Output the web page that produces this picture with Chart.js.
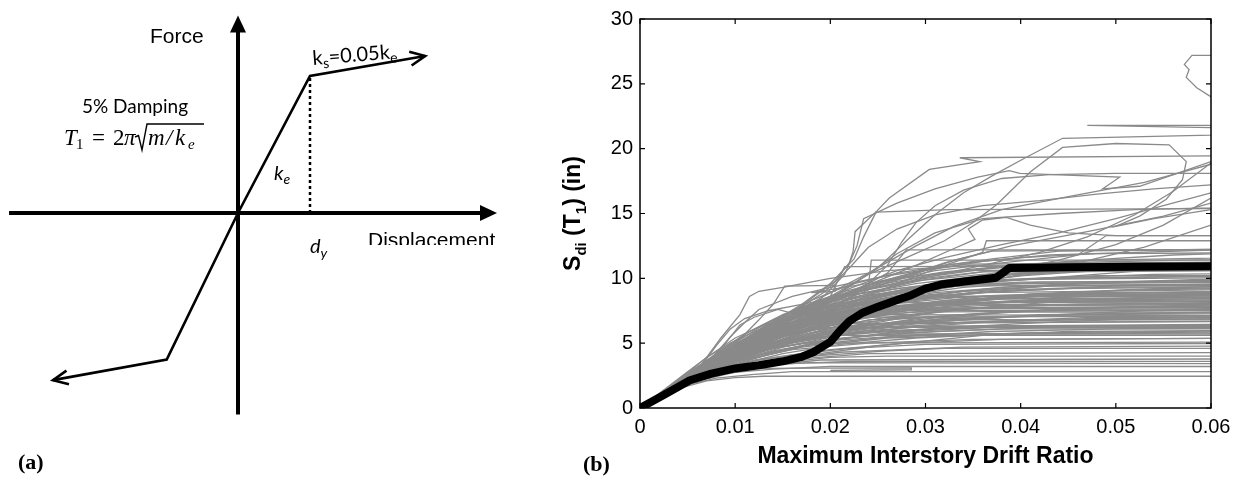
<!DOCTYPE html>
<html>
<head>
<meta charset="utf-8">
<script src="https://cdn.jsdelivr.net/npm/chart.js@4.4.1/dist/chart.umd.min.js"></script>
<style>
  html, body { margin: 0; padding: 0; background: #fff; }
  #wrap { position: relative; width: 1242px; height: 479px; overflow: hidden; }
  #backbone { position: absolute; left: 0; top: 0; }
  #ida { position: absolute; left: 520px; top: 0; }
</style>
</head>
<body>
<div id="wrap">
  <canvas id="backbone" width="520" height="479"></canvas>
  <canvas id="ida" width="722" height="479"></canvas>
</div>
<script>
// ---------- (a) bilinear backbone, in units of d_y and F_y ----------
const backboneDisp  = [-2.57, -0.99, 0, 1, 2.6];
const backboneForce = [-1.22, -1.07, 0, 1, 1.146];
const dispAxis  = [-3.18, 3.5];
const forceAxis = [-1.47, 1.39];
const yieldDisp = 1;

// ---------- (b) IDA curves ----------
const driftTicks  = [0, 0.01, 0.02, 0.03, 0.04, 0.05, 0.06];
const driftLabels = ['0', '0.01', '0.02', '0.03', '0.04', '0.05', '0.06'];
const sdiTicks  = [0, 5, 10, 15, 20, 25, 30];
const sdiLabels = ['0', '5', '10', '15', '20', '25', '30'];

const medianDrift = [0, 0.0025, 0.00525, 0.0075, 0.01, 0.0125, 0.015, 0.017, 0.0182, 0.02, 0.021, 0.022, 0.0234, 0.025, 0.0273, 0.0285, 0.03, 0.0318, 0.0345, 0.0374, 0.038, 0.0388, 0.045, 0.052, 0.06];
const medianSdi   = [0, 1.0, 2.14, 2.65, 3.05, 3.3, 3.6, 3.95, 4.3, 5.1, 5.95, 6.7, 7.35, 7.8, 8.4, 8.7, 9.2, 9.55, 9.8, 10.05, 10.35, 10.8, 10.85, 10.9, 10.94];

// single records, [drift, Sdi] pairs
const idaCurves = [
  // low collapses
  [[0,0],[0.004,1.5],[0.007,2.1],[0.010,2.35],[0.013,2.45],[0.07,2.45]],
  [[0,0],[0.005,1.8],[0.008,2.3],[0.012,2.6],[0.016,2.8],[0.07,2.8]],
  [[0,0],[0.005,2.0],[0.009,2.7],[0.014,3.0],[0.02,3.2],[0.07,3.2]],
  [[0,0],[0.005,1.9],[0.009,2.6],[0.012,3.05],[0.0285,3.1],[0.0285,2.95],[0.02,2.9]],
  [[0,0],[0.005,2.1],[0.009,2.9],[0.015,3.4],[0.022,3.6],[0.07,3.6]],
  [[0,0],[0.005,2.0],[0.01,3.0],[0.016,3.6],[0.02,3.9],[0.026,4.0],[0.07,4.0]],
  [[0,0],[0.006,2.3],[0.011,3.2],[0.017,3.8],[0.024,4.2],[0.07,4.3]],
  [[0,0],[0.005,2.0],[0.012,3.4],[0.018,4.0],[0.026,4.4],[0.032,4.6],[0.07,4.6]],
  [[0,0],[0.005,2.1],[0.011,3.5],[0.016,4.1],[0.022,4.6],[0.03,4.9],[0.07,5.0]],
  [[0,0],[0.006,2.4],[0.012,3.7],[0.02,4.5],[0.028,5.0],[0.038,5.3],[0.07,5.4]],
  [[0,0],[0.005,2.0],[0.009,3.0],[0.014,3.6],[0.021,4.3],[0.034,4.7],[0.07,4.8]],
  [[0,0],[0.005,1.9],[0.008,2.6],[0.012,3.2],[0.019,3.7],[0.07,3.8]],
  [[0,0],[0.005,2.0],[0.01,3.1],[0.016,3.9],[0.025,4.8],[0.036,5.6],[0.045,5.9],[0.07,6.0]],
  [[0,0],[0.004,1.6],[0.008,2.5],[0.013,3.3],[0.018,3.5],[0.07,3.4]],
  [[0,0],[0.005,2.1],[0.01,3.6],[0.016,4.5],[0.024,5.0],[0.035,5.3],[0.07,5.4]],
  [[0,0],[0.005,1.9],[0.01,3.3],[0.015,4.2],[0.021,4.9],[0.029,5.4],[0.04,5.8],[0.07,6.0]],
  // middle band
  [[0,0],[0.005,2.1],[0.01,3.4],[0.015,4.4],[0.02,5.2],[0.027,5.9],[0.035,6.3],[0.07,6.4]],
  [[0,0],[0.005,2.2],[0.009,3.5],[0.013,4.6],[0.018,5.6],[0.024,6.4],[0.032,6.9],[0.045,7.2],[0.07,7.3]],
  [[0,0],[0.005,2.0],[0.008,3.0],[0.012,4.2],[0.016,5.0],[0.021,5.6],[0.03,6.1],[0.04,6.5],[0.052,6.9],[0.07,7.2]],
  [[0,0],[0.006,2.5],[0.01,3.8],[0.014,4.9],[0.019,5.9],[0.025,6.6],[0.031,7.4],[0.039,7.9],[0.07,8.0]],
  [[0,0],[0.005,2.1],[0.011,4.0],[0.017,5.3],[0.022,5.8],[0.029,6.0],[0.027,5.7],[0.07,5.8]],
  [[0,0],[0.005,2.2],[0.0085,3.4],[0.012,4.5],[0.016,5.4],[0.021,6.4],[0.026,7.0],[0.033,7.6],[0.044,8.2],[0.055,8.6],[0.07,8.8]],
  [[0,0],[0.005,2.0],[0.01,3.7],[0.014,4.6],[0.018,5.1],[0.023,5.5],[0.031,5.9],[0.042,6.2],[0.07,6.3]],
  [[0,0],[0.006,2.6],[0.01,4.1],[0.013,5.2],[0.017,6.2],[0.022,7.0],[0.028,7.5],[0.07,7.6]],
  [[0,0],[0.005,2.2],[0.009,3.6],[0.013,4.8],[0.019,6.3],[0.024,7.2],[0.03,7.9],[0.037,8.5],[0.046,8.9],[0.07,9.0]],
  [[0,0],[0.005,2.1],[0.011,4.2],[0.016,5.5],[0.021,6.6],[0.027,7.3],[0.034,7.7],[0.07,7.8]],
  [[0,0],[0.005,2.3],[0.008,3.4],[0.011,4.6],[0.014,5.6],[0.018,6.5],[0.023,7.3],[0.029,8.0],[0.036,8.6],[0.07,8.7]],
  [[0,0],[0.005,2.0],[0.009,3.3],[0.015,4.9],[0.021,5.7],[0.03,6.6],[0.041,7.1],[0.053,7.5],[0.07,7.6]],
  [[0,0],[0.005,2.2],[0.01,4.0],[0.014,5.1],[0.018,5.8],[0.024,6.8],[0.03,7.0],[0.039,6.8],[0.07,6.9]],
  [[0,0],[0.006,2.4],[0.009,3.7],[0.012,4.9],[0.015,5.9],[0.019,6.9],[0.024,7.6],[0.032,8.3],[0.042,8.7],[0.07,8.8]],
  [[0,0],[0.005,2.1],[0.01,3.8],[0.016,5.3],[0.024,6.1],[0.034,6.6],[0.048,7.0],[0.07,7.0]],
  [[0,0],[0.005,2.0],[0.012,4.3],[0.018,5.5],[0.025,6.3],[0.032,6.9],[0.038,7.4],[0.07,7.4]],
  [[0,0],[0.005,2.2],[0.009,3.8],[0.013,5.1],[0.017,6.0],[0.02,6.6],[0.026,7.2],[0.07,7.1]],
  [[0,0],[0.005,2.1],[0.011,4.5],[0.015,5.8],[0.02,7.1],[0.027,7.8],[0.035,8.1],[0.045,8.3],[0.07,8.5]],
  [[0,0],[0.005,2.0],[0.008,3.1],[0.012,4.0],[0.017,4.8],[0.025,5.4],[0.037,5.9],[0.05,6.1],[0.07,6.2]],
  [[0,0],[0.006,2.5],[0.01,4.3],[0.015,5.7],[0.019,6.3],[0.026,6.8],[0.034,7.2],[0.044,7.6],[0.056,7.9],[0.07,8.0]],
  [[0,0],[0.005,2.1],[0.009,3.9],[0.012,5.0],[0.016,6.2],[0.021,7.3],[0.028,8.2],[0.036,8.9],[0.07,9.2]],
  [[0,0],[0.005,2.2],[0.01,4.4],[0.014,5.9],[0.019,6.8],[0.025,7.5],[0.033,8.0],[0.042,8.4],[0.052,8.2],[0.07,8.3]],
  [[0,0],[0.005,2.0],[0.01,3.5],[0.017,4.7],[0.026,5.4],[0.04,5.7],[0.07,5.7]],
  [[0,0],[0.005,2.3],[0.009,4.0],[0.013,5.4],[0.016,6.5],[0.021,7.6],[0.027,8.4],[0.034,9.0],[0.043,9.4],[0.07,9.5]],
  [[0,0],[0.005,2.1],[0.012,4.6],[0.018,6.0],[0.023,6.4],[0.03,6.5],[0.038,6.7],[0.046,6.8],[0.07,6.9]],
  [[0,0],[0.005,2.1],[0.01,4.0],[0.014,5.3],[0.018,6.2],[0.07,6.3]],
  [[0,0],[0.005,2.2],[0.01,4.3],[0.015,6.0],[0.02,7.0],[0.07,7.1]],
  [[0,0],[0.005,2.0],[0.011,4.1],[0.017,5.9],[0.024,7.6],[0.07,7.8]],
  [[0,0],[0.005,2.3],[0.009,4.1],[0.013,5.6],[0.018,7.2],[0.022,8.1],[0.07,8.2]],
  [[0,0],[0.005,2.1],[0.01,4.1],[0.016,6.0],[0.022,7.6],[0.029,8.6],[0.07,8.7]],
  [[0,0],[0.005,2.2],[0.01,4.2],[0.015,5.5],[0.021,6.5],[0.07,6.7]],
  [[0,0],[0.005,2.0],[0.009,3.5],[0.013,4.5],[0.017,5.0],[0.07,5.1]],
  [[0,0],[0.005,2.1],[0.01,3.9],[0.015,5.1],[0.02,5.9],[0.026,6.3],[0.07,6.4]],
  [[0,0],[0.005,2.2],[0.011,4.6],[0.016,6.4],[0.021,7.8],[0.027,8.9],[0.033,9.6],[0.07,9.7]],
  [[0,0],[0.005,2.1],[0.01,4.0],[0.015,5.8],[0.02,7.3],[0.025,8.4],[0.031,9.2],[0.038,9.9],[0.07,10.1]],
  [[0,0],[0.006,2.5],[0.011,4.4],[0.016,5.7],[0.022,6.9],[0.03,7.7],[0.07,7.9]],
  [[0,0],[0.005,2.0],[0.009,3.3],[0.014,4.4],[0.02,5.2],[0.03,5.7],[0.07,5.9]],
  [[0,0],[0.005,2.6],[0.008,3.9],[0.011,5.0],[0.015,6.0],[0.02,6.9],[0.026,7.7],[0.034,8.3],[0.045,8.7],[0.07,8.9]],
  [[0,0],[0.005,2.4],[0.0075,3.6],[0.0105,4.8],[0.014,5.6],[0.019,6.1],[0.025,6.5],[0.032,6.6],[0.07,6.7]],
  [[0,0],[0.005,1.9],[0.009,3.4],[0.014,4.8],[0.02,6.0],[0.027,7.0],[0.035,7.7],[0.046,8.0],[0.058,8.1],[0.07,8.2]],
  [[0,0],[0.005,2.7],[0.007,3.9],[0.01,5.4],[0.013,6.4],[0.017,7.2],[0.022,7.8],[0.029,8.4],[0.038,8.7],[0.07,8.9]],
  [[0,0],[0.005,2.5],[0.009,4.5],[0.012,5.6],[0.016,6.6],[0.021,7.4],[0.028,7.9],[0.036,8.1],[0.07,8.3]],
  [[0,0],[0.005,2.0],[0.01,3.9],[0.016,5.6],[0.023,6.9],[0.031,7.9],[0.04,8.6],[0.051,9.1],[0.07,9.3]],
  [[0,0],[0.005,2.2],[0.01,4.2],[0.016,6.1],[0.022,7.5],[0.03,8.5],[0.039,9.1],[0.05,9.4],[0.07,9.6]],
  [[0,0],[0.005,2.1],[0.01,4.1],[0.015,5.9],[0.02,7.2],[0.026,8.0],[0.033,8.5],[0.042,8.8],[0.07,9.0]],
  [[0,0],[0.005,2.0],[0.01,3.6],[0.015,4.7],[0.021,5.6],[0.028,6.2],[0.036,6.6],[0.047,6.9],[0.07,7.0]],
  [[0,0],[0.005,2.3],[0.009,3.8],[0.013,4.9],[0.018,5.8],[0.024,6.4],[0.032,6.8],[0.07,6.8]],
  [[0,0],[0.005,2.2],[0.009,3.7],[0.014,5.0],[0.02,5.9],[0.028,6.5],[0.038,7.0],[0.05,7.3],[0.07,7.5]],
  [[0,0],[0.005,2.1],[0.008,3.2],[0.012,4.3],[0.017,5.2],[0.023,5.9],[0.03,6.3],[0.07,6.5]],
  [[0,0],[0.005,2.5],[0.008,3.7],[0.012,4.8],[0.016,5.3],[0.021,5.6],[0.07,5.6]],
  [[0,0],[0.005,2.0],[0.01,4.0],[0.015,5.7],[0.021,7.0],[0.029,7.9],[0.038,8.4],[0.048,8.6],[0.07,8.7]],
  [[0,0],[0.005,1.8],[0.009,3.1],[0.014,4.3],[0.02,5.3],[0.028,5.9],[0.039,6.3],[0.07,6.4]],
  [[0,0],[0.005,2.4],[0.009,3.9],[0.013,5.2],[0.018,6.4],[0.024,7.3],[0.031,7.9],[0.04,8.2],[0.07,8.4]],
  [[0,0],[0.005,2.7],[0.008,4.1],[0.011,5.3],[0.015,6.3],[0.02,7.0],[0.027,7.5],[0.035,7.7],[0.07,7.8]],
  [[0,0],[0.005,2.1],[0.01,4.2],[0.014,5.5],[0.019,6.6],[0.025,7.4],[0.032,8.0],[0.041,8.3],[0.07,8.5]],
  [[0,0],[0.005,2.3],[0.01,4.3],[0.014,5.7],[0.018,6.7],[0.023,7.5],[0.03,8.1],[0.07,8.3]],
  [[0,0],[0.005,2.2],[0.009,4.0],[0.013,5.3],[0.017,6.3],[0.022,7.1],[0.028,7.6],[0.036,7.9],[0.07,8.0]],
  [[0,0],[0.005,2.2],[0.01,4.0],[0.015,5.2],[0.021,6.0],[0.03,6.7],[0.042,7.2],[0.07,7.4]],
  [[0,0],[0.005,2.4],[0.009,4.0],[0.014,5.4],[0.02,6.6],[0.027,7.6],[0.035,8.3],[0.046,8.8],[0.07,9.1]],
  [[0,0],[0.005,2.1],[0.01,3.7],[0.015,4.9],[0.022,6.1],[0.03,7.0],[0.04,7.5],[0.052,7.8],[0.07,7.9]],
  [[0,0],[0.005,2.3],[0.01,4.2],[0.016,5.8],[0.023,7.1],[0.031,8.1],[0.041,8.8],[0.054,9.2],[0.07,9.3]],
  [[0,0],[0.005,2.0],[0.01,3.8],[0.015,5.0],[0.02,5.6],[0.027,6.0],[0.036,6.2],[0.07,6.2]],
  [[0,0],[0.005,2.2],[0.009,3.6],[0.014,4.6],[0.02,5.3],[0.028,5.8],[0.038,6.1],[0.07,6.1]],
  [[0,0],[0.005,2.1],[0.01,4.1],[0.015,5.6],[0.02,6.7],[0.027,7.5],[0.035,8.0],[0.045,8.4],[0.07,8.6]],
  [[0,0],[0.005,2.0],[0.011,4.0],[0.017,5.4],[0.024,6.4],[0.033,7.1],[0.044,7.6],[0.07,7.7]],
  [[0,0],[0.005,2.2],[0.01,4.3],[0.015,5.9],[0.021,7.1],[0.028,7.9],[0.036,8.4],[0.07,8.6]],
  [[0,0],[0.005,2.4],[0.009,4.2],[0.013,5.5],[0.017,6.4],[0.022,7.0],[0.029,7.4],[0.07,7.6]],
  // upper band
  [[0,0],[0.005,2.3],[0.008,3.7],[0.0105,5.3],[0.0125,6.8],[0.014,8.0],[0.0152,9.4],[0.0205,9.45],[0.0205,9.0],[0.018,8.9],[0.0215,9.3],[0.027,10.0],[0.034,10.6],[0.07,10.8]],
  [[0,0],[0.005,2.4],[0.0065,3.4],[0.0085,5.4],[0.0105,7.2],[0.0115,8.6],[0.0125,9.0],[0.015,9.3],[0.02,10.0],[0.026,10.6],[0.035,11.0],[0.07,11.1]],
  [[0,0],[0.005,2.2],[0.0095,4.5],[0.013,6.3],[0.017,7.7],[0.02,8.6],[0.0215,10.9],[0.07,10.95]],
  [[0,0],[0.005,2.1],[0.01,4.1],[0.015,6.0],[0.02,7.6],[0.024,9.4],[0.0243,11.4],[0.07,11.4]],
  [[0,0],[0.005,2.2],[0.01,4.3],[0.015,6.2],[0.019,7.8],[0.023,9.2],[0.026,10.4],[0.028,12.2],[0.07,12.2]],
  [[0,0],[0.005,2.0],[0.01,3.8],[0.016,5.9],[0.022,8.0],[0.027,9.6],[0.032,11.0],[0.036,12.0],[0.0364,12.9],[0.07,12.9]],
  [[0,0],[0.005,2.3],[0.01,4.6],[0.014,6.6],[0.018,8.3],[0.022,9.5],[0.027,10.4],[0.033,11.1],[0.04,11.6],[0.048,11.9],[0.07,12.0]],
  [[0,0],[0.005,2.1],[0.011,4.7],[0.016,6.8],[0.021,8.6],[0.026,9.8],[0.031,10.6],[0.038,11.2],[0.046,11.8],[0.049,13.3],[0.07,13.3]],
  [[0,0],[0.005,2.2],[0.009,4.2],[0.013,6.0],[0.018,7.9],[0.023,9.0],[0.029,9.8],[0.036,10.3],[0.045,10.6],[0.07,10.7]],
  [[0,0],[0.005,2.0],[0.01,4.0],[0.016,6.3],[0.021,7.9],[0.026,8.9],[0.033,9.6],[0.042,10.0],[0.054,10.3],[0.07,10.4]],
  [[0,0],[0.006,2.6],[0.01,4.6],[0.014,6.5],[0.017,7.6],[0.021,8.5],[0.025,9.1],[0.03,9.9],[0.036,10.5],[0.07,10.6]],
  [[0,0],[0.005,2.1],[0.01,4.2],[0.015,6.1],[0.02,7.4],[0.028,8.8],[0.035,9.6],[0.044,10.1],[0.053,10.6],[0.06,11.2],[0.07,11.5]],
  [[0,0],[0.005,2.2],[0.009,4.0],[0.014,6.4],[0.019,8.1],[0.025,9.5],[0.031,10.3],[0.039,11.0],[0.047,11.4],[0.056,11.8],[0.07,12.1]],
  [[0,0],[0.005,2.3],[0.008,3.8],[0.012,5.8],[0.016,7.4],[0.02,8.5],[0.025,9.7],[0.031,10.9],[0.037,11.5],[0.044,12.1],[0.07,12.3]],
  [[0,0],[0.005,2.1],[0.01,4.4],[0.015,6.5],[0.02,8.2],[0.027,9.2],[0.035,9.8],[0.048,10.2],[0.07,10.2]],
  [[0,0],[0.005,2.2],[0.009,4.1],[0.013,5.9],[0.017,7.3],[0.022,8.4],[0.029,9.3],[0.036,9.8],[0.045,10.0],[0.055,10.1],[0.07,10.2]],
  [[0,0],[0.005,2.0],[0.011,4.5],[0.017,6.9],[0.022,8.7],[0.028,10.1],[0.033,11.4],[0.037,12.1],[0.07,12.3]],
  [[0,0],[0.005,2.2],[0.01,4.5],[0.014,6.2],[0.018,7.1],[0.023,8.0],[0.03,8.6],[0.038,9.0],[0.048,9.3],[0.07,9.4]],
  [[0,0],[0.005,2.1],[0.009,3.9],[0.014,5.8],[0.02,7.3],[0.027,8.3],[0.036,9.0],[0.046,9.6],[0.058,9.9],[0.07,10.0]],
  [[0,0],[0.006,2.5],[0.011,4.9],[0.015,6.7],[0.019,7.8],[0.024,8.7],[0.031,9.3],[0.04,9.7],[0.07,9.8]],
  [[0,0],[0.005,2.3],[0.0065,3.3],[0.008,4.8],[0.0095,6.1],[0.011,6.9],[0.0135,7.5],[0.017,8.0],[0.022,8.7],[0.03,9.5],[0.07,9.8]],
  [[0,0],[0.005,2.2],[0.007,3.4],[0.009,5.0],[0.0105,6.4],[0.012,7.0],[0.0145,7.6],[0.016,7.3],[0.02,7.9],[0.07,8.1]],
  [[0,0],[0.0055,2.5],[0.0075,3.8],[0.0095,5.5],[0.011,6.6],[0.0125,7.6],[0.016,8.6],[0.02,9.3],[0.026,10.2],[0.034,11.1],[0.07,11.3]],
  [[0,0],[0.005,2.3],[0.01,4.4],[0.015,6.2],[0.021,7.9],[0.028,9.2],[0.036,10.1],[0.045,10.6],[0.07,11.0]],
  [[0,0],[0.005,2.6],[0.008,4.2],[0.011,5.7],[0.014,6.8],[0.018,7.9],[0.023,8.8],[0.029,9.6],[0.036,10.2],[0.044,10.5],[0.07,10.7]],
  [[0,0],[0.005,2.4],[0.009,4.3],[0.013,5.8],[0.018,7.1],[0.024,8.1],[0.031,8.9],[0.04,9.4],[0.07,9.6]],
  [[0,0],[0.005,2.8],[0.007,3.9],[0.0095,5.0],[0.012,5.9],[0.016,6.9],[0.021,7.8],[0.027,8.6],[0.034,9.3],[0.042,9.7],[0.07,9.9]],
  [[0,0],[0.005,2.3],[0.009,4.2],[0.013,5.9],[0.017,7.1],[0.022,8.2],[0.028,9.1],[0.035,9.7],[0.043,10.0],[0.07,10.3]],
  [[0,0],[0.005,2.2],[0.01,4.3],[0.015,6.1],[0.02,7.5],[0.026,8.7],[0.033,9.6],[0.041,10.3],[0.049,10.8],[0.07,11.2]],
  [[0,0],[0.005,2.4],[0.009,4.4],[0.013,6.2],[0.018,7.8],[0.023,9.0],[0.029,10.0],[0.036,10.7],[0.044,11.2],[0.07,11.6]],
  [[0,0],[0.005,2.1],[0.009,3.9],[0.014,5.7],[0.019,7.2],[0.025,8.5],[0.032,9.5],[0.04,10.2],[0.05,10.7],[0.07,10.9]],
  [[0,0],[0.005,2.6],[0.009,4.6],[0.013,6.4],[0.017,7.8],[0.021,8.9],[0.026,9.8],[0.032,10.5],[0.039,11.0],[0.048,11.4],[0.07,11.7]],
  [[0,0],[0.005,2.3],[0.01,4.5],[0.015,6.6],[0.02,8.4],[0.025,9.7],[0.03,10.6],[0.036,11.3],[0.043,11.8],[0.07,12.4]],
  [[0,0],[0.005,2.2],[0.0095,4.1],[0.0135,5.6],[0.018,6.8],[0.024,7.9],[0.03,8.7],[0.038,9.3],[0.048,9.7],[0.07,9.9]],
  [[0,0],[0.005,2.5],[0.0085,4.3],[0.012,5.8],[0.016,7.0],[0.0205,8.0],[0.026,8.8],[0.033,9.4],[0.07,9.6]],
  [[0,0],[0.005,2.0],[0.011,4.4],[0.016,6.1],[0.022,7.4],[0.028,8.3],[0.035,8.9],[0.045,9.2],[0.07,9.4]],
  [[0,0],[0.005,2.6],[0.0085,4.4],[0.0115,5.9],[0.015,7.2],[0.019,8.3],[0.024,9.2],[0.03,10.0],[0.037,10.6],[0.07,11.0]],
  [[0,0],[0.005,2.5],[0.009,4.4],[0.013,5.9],[0.018,7.4],[0.024,8.6],[0.031,9.6],[0.04,10.4],[0.052,10.9],[0.07,11.1]],
  [[0,0],[0.005,2.3],[0.01,4.4],[0.015,6.0],[0.02,7.2],[0.026,8.2],[0.034,9.0],[0.044,9.5],[0.056,9.8],[0.07,9.9]],
  // high records
  [[0,0],[0.005,2.2],[0.009,4.2],[0.013,6.1],[0.017,7.9],[0.0205,9.8],[0.022,11.2],[0.0224,12.1],[0.0226,13.6],[0.0249,15.2],[0.0262,16.2],[0.0304,18.4],[0.0357,19.0],[0.0336,19.3],[0.07,19.5]],
  [[0,0],[0.005,2.1],[0.01,4.3],[0.015,6.4],[0.019,8.4],[0.0215,10.3],[0.0228,12.5],[0.0235,14.6],[0.027,15.8],[0.031,16.9],[0.0355,17.8],[0.0388,18.3],[0.0399,18.1],[0.0504,17.8],[0.0486,16.9],[0.0525,17.1],[0.06,19.0],[0.07,20.5]],
  [[0,0],[0.005,2.2],[0.01,4.5],[0.015,6.6],[0.02,8.6],[0.024,10.3],[0.028,11.6],[0.032,12.9],[0.035,14.3],[0.0375,15.7],[0.041,18.2],[0.0444,20.1],[0.05,20.4],[0.0556,20.3],[0.0574,19.0],[0.057,17.6],[0.0553,16.1],[0.0525,14.8],[0.05,14.0],[0.054,14.6],[0.06,15.3],[0.07,15.8]],
  [[0,0],[0.005,2.1],[0.011,4.8],[0.016,7.0],[0.021,8.9],[0.025,10.8],[0.028,12.9],[0.031,14.9],[0.034,16.6],[0.037,17.9],[0.0405,19.3],[0.0444,20.8],[0.07,21.2]],
  [[0,0],[0.005,2.2],[0.01,4.4],[0.014,6.3],[0.019,8.5],[0.024,10.4],[0.029,12.5],[0.033,14.0],[0.038,15.3],[0.045,16.3],[0.053,17.4],[0.06,18.8],[0.07,21.5],[0.047,21.8],[0.07,21.8]],
  [[0,0],[0.005,2.1],[0.01,4.2],[0.015,6.1],[0.02,7.9],[0.026,9.7],[0.032,11.2],[0.039,12.5],[0.047,13.6],[0.055,14.8],[0.06,15.8],[0.075,23.5],[0.06,24.0],[0.0585,24.7],[0.0574,25.5],[0.0577,26.1],[0.0572,26.5],[0.058,27.2],[0.075,27.2]],
  [[0,0],[0.005,2.3],[0.009,4.3],[0.013,6.2],[0.017,8.0],[0.02,9.6],[0.0225,11.5],[0.0235,13.2],[0.0248,15.1],[0.0325,15.3],[0.07,15.4]],
  [[0,0],[0.005,2.2],[0.01,4.4],[0.015,6.5],[0.02,8.3],[0.024,9.6],[0.026,11.0],[0.0275,12.8],[0.029,14.3],[0.031,15.6],[0.034,16.8],[0.038,17.7],[0.043,18.0],[0.05,18.1],[0.07,18.1]],
  [[0,0],[0.005,2.1],[0.01,4.3],[0.015,6.3],[0.02,8.1],[0.025,9.8],[0.029,11.0],[0.033,12.3],[0.0352,13.0],[0.0345,13.8],[0.036,14.5],[0.0385,14.7],[0.041,14.1],[0.045,13.5],[0.05,13.3],[0.07,13.3]],
  [[0,0],[0.005,2.2],[0.01,4.6],[0.015,6.9],[0.0195,9.0],[0.022,10.8],[0.024,12.4],[0.027,13.8],[0.031,14.9],[0.036,15.6],[0.042,16.0],[0.048,16.5],[0.054,16.9],[0.06,17.2],[0.07,17.5]],
  [[0,0],[0.005,2.1],[0.01,4.3],[0.016,6.9],[0.022,9.2],[0.027,10.6],[0.032,11.6],[0.038,12.6],[0.044,13.5],[0.05,14.6],[0.055,15.6],[0.06,16.6],[0.07,18.0]],
  [[0,0],[0.005,2.2],[0.01,4.4],[0.015,6.5],[0.02,8.4],[0.0235,10.1],[0.027,11.9],[0.031,13.5],[0.036,14.6],[0.044,15.0],[0.052,15.3],[0.07,15.6]],
  [[0,0],[0.005,2.0],[0.01,4.0],[0.016,6.4],[0.022,8.4],[0.029,9.9],[0.036,11.0],[0.042,12.0],[0.047,13.2],[0.052,14.9],[0.056,16.7],[0.06,18.9],[0.065,21]],
  [[0,0],[0.005,2.1],[0.011,4.6],[0.017,6.6],[0.024,8.4],[0.031,9.6],[0.038,10.5],[0.044,11.4],[0.05,12.6],[0.055,14.1],[0.06,16.2],[0.065,17.5]],
  [[0,0],[0.005,2.2],[0.01,4.3],[0.016,6.2],[0.023,7.9],[0.03,9.0],[0.038,10.0],[0.046,11.2],[0.053,12.4],[0.06,14.1],[0.07,15.5]]
];

// ---------- helpers ----------
function filledArrow(ctx, x0, y0, x1, y1) {
  const len = Math.hypot(x1 - x0, y1 - y0), ux = (x1 - x0) / len, uy = (y1 - y0) / len;
  const tx = x1 + ux * 7, ty = y1 + uy * 7;
  const bx = tx - ux * 17, by = ty - uy * 17;
  ctx.beginPath();
  ctx.moveTo(tx, ty);
  ctx.lineTo(bx - uy * 8, by + ux * 8);
  ctx.lineTo(bx + uy * 8, by - ux * 8);
  ctx.closePath();
  ctx.fill();
}

function openArrow(ctx, x0, y0, x1, y1) {
  const len = Math.hypot(x1 - x0, y1 - y0), ux = (x1 - x0) / len, uy = (y1 - y0) / len;
  const bx = x1 - ux * 15, by = y1 - uy * 15;
  ctx.beginPath();
  ctx.moveTo(bx - uy * 7, by + ux * 7);
  ctx.lineTo(x1, y1);
  ctx.lineTo(bx + uy * 7, by - ux * 7);
  ctx.stroke();
}

// text with a subscript; returns the x after it
function subText(ctx, x, y, main, sub, font, subFont, drop) {
  ctx.font = font;
  ctx.fillText(main, x, y);
  x += ctx.measureText(main).width;
  ctx.font = subFont;
  ctx.fillText(sub, x, y + drop);
  return x + ctx.measureText(sub).width;
}

// ---------- (a) ----------
const sketchLabels = {
  id: 'sketchLabels',
  afterDatasetsDraw(chart) {
    const { ctx, scales: { x, y } } = chart;
    const px = v => x.getPixelForValue(v), py = v => y.getPixelForValue(v);
    const n = backboneDisp.length;
    ctx.save();
    ctx.fillStyle = '#000';
    ctx.strokeStyle = '#000';
    filledArrow(ctx, px(dispAxis[0]), py(0), px(dispAxis[1]), py(0));
    filledArrow(ctx, px(0), py(forceAxis[0]), px(0), py(forceAxis[1]));
    ctx.lineWidth = 2.6;
    ctx.lineJoin = 'miter';
    openArrow(ctx, px(backboneDisp[n - 2]), py(backboneForce[n - 2]), px(backboneDisp[n - 1]), py(backboneForce[n - 1]));
    openArrow(ctx, px(backboneDisp[1]), py(backboneForce[1]), px(backboneDisp[0]), py(backboneForce[0]));

    ctx.textAlign = 'left';
    ctx.textBaseline = 'alphabetic';
    ctx.font = '21px "Liberation Sans"';
    ctx.fillText('Force', 150, 43);
    ctx.save();
    ctx.beginPath();
    ctx.rect(0, 0, 520, 245);
    ctx.clip();
    ctx.fillText('Displacement', 368, 246.5);
    ctx.restore();

    ctx.textAlign = 'center';
    ctx.font = '19px Lato';
    ctx.fillText('5% Damping', 135, 113);
    ctx.textAlign = 'left';

    // T1 = 2π √(m/ke)
    const it = 'italic 23px "Liberation Serif"', up = '23px "Liberation Serif"';
    const sm = '15px "Liberation Serif"', smIt = 'italic 15px "Liberation Serif"';
    ctx.font = it; ctx.fillText('T', 64, 145);
    ctx.font = sm; ctx.fillText('1', 76, 149);
    ctx.font = up; ctx.fillText('=', 92, 145); ctx.fillText('2', 113, 145);
    ctx.font = it; ctx.fillText('π', 124, 145);
    ctx.lineWidth = 1.4;
    ctx.beginPath();
    ctx.moveTo(135, 137); ctx.lineTo(138.5, 135.5); ctx.lineTo(142, 150); ctx.lineTo(147, 124); ctx.lineTo(204, 124);
    ctx.stroke();
    ctx.font = it; ctx.fillText('m', 148, 145); ctx.fillText('/', 166, 145); ctx.fillText('k', 175, 145);
    ctx.font = smIt; ctx.fillText('e', 188, 149);

    // ks = 0.05 ke, along the hardening branch
    ctx.save();
    ctx.translate(313, 65);
    ctx.rotate(-0.08);
    let cx = subText(ctx, 0, 0, 'k', 's', '20px Lato', '14px Lato', 4);
    subText(ctx, cx, 0, '=0.05k', 'e', '20px Lato', '14px Lato', 4);
    ctx.restore();

    subText(ctx, 274, 180, 'k', 'e', 'italic 20px Lato', 'italic 14px Lato', 4);
    subText(ctx, 310, 253, 'd', 'y', 'italic 20px Lato', 'italic 14px Lato', 5);

    ctx.font = 'bold 22px "Liberation Serif"';
    ctx.fillText('(a)', 18, 469);
    ctx.restore();
  }
};

new Chart(document.getElementById('backbone'), {
  type: 'scatter',
  data: {
    datasets: [
      { data: dispAxis.map(v => ({ x: v, y: 0 })), showLine: true, borderColor: '#000', borderWidth: 4, pointRadius: 0 },
      { data: forceAxis.map(v => ({ x: 0, y: v })), showLine: true, borderColor: '#000', borderWidth: 4, pointRadius: 0 },
      { data: backboneDisp.map((v, i) => ({ x: v, y: backboneForce[i] })), showLine: true, borderColor: '#000', borderWidth: 2.6, pointRadius: 0 },
      { data: [{ x: yieldDisp, y: 0 }, { x: yieldDisp, y: backboneForce[3] }], showLine: true, borderColor: '#000', borderWidth: 2.5, borderDash: [3, 3], pointRadius: 0 }
    ]
  },
  options: {
    responsive: false,
    animation: false,
    layout: { padding: 0 },
    plugins: { legend: { display: false }, tooltip: { enabled: false } },
    scales: {
      x: { type: 'linear', display: false, min: -3.3056, max: 3.9167 },
      y: { type: 'linear', display: false, min: -1.9416, max: 1.5547 }
    }
  },
  plugins: [sketchLabels]
});

// ---------- (b) ----------
const frameTicks = {
  id: 'frameTicks',
  afterDraw(chart) {
    const { ctx, chartArea: a, scales: { x, y } } = chart;
    ctx.save();
    ctx.strokeStyle = '#000';
    ctx.lineWidth = 1.5;
    ctx.strokeRect(a.left, a.top, a.right - a.left, a.bottom - a.top);
    ctx.lineWidth = 1.2;
    ctx.beginPath();
    driftTicks.forEach(v => {
      const p = x.getPixelForValue(v);
      ctx.moveTo(p, a.bottom); ctx.lineTo(p, a.bottom - 5);
      ctx.moveTo(p, a.top); ctx.lineTo(p, a.top + 5);
    });
    sdiTicks.forEach(v => {
      const p = y.getPixelForValue(v);
      ctx.moveTo(a.left, p); ctx.lineTo(a.left + 5, p);
      ctx.moveTo(a.right, p); ctx.lineTo(a.right - 5, p);
    });
    ctx.stroke();

    // y title with subscripts
    ctx.translate(52, (a.top + a.bottom) / 2);
    ctx.rotate(-Math.PI / 2);
    const big = 'bold 23px "Liberation Sans"', small = 'bold 15px "Liberation Sans"';
    const parts = [['S', big, 0], ['di', small, 6], [' (T', big, 0], ['1', small, 6], [') (in)', big, 0]];
    let total = 0;
    parts.forEach(([t, f]) => { ctx.font = f; total += ctx.measureText(t).width; });
    let cx = -total / 2;
    ctx.fillStyle = '#000';
    ctx.textBaseline = 'alphabetic';
    parts.forEach(([t, f, d]) => { ctx.font = f; ctx.fillText(t, cx, 8 + d); cx += ctx.measureText(t).width; });
    ctx.restore();

    ctx.save();
    ctx.fillStyle = '#000';
    ctx.font = 'bold 22px "Liberation Serif"';
    ctx.fillText('(b)', 63, 471);
    ctx.restore();
  }
};

const idaSets = idaCurves.map(c => ({
  data: c.map(([dx, sy]) => ({ x: dx, y: sy })),
  showLine: true, borderColor: '#8a8a8a', borderWidth: 1.3, pointRadius: 0, order: 1
}));
// median drawn last, on top of the records
idaSets.push({
  data: medianDrift.map((v, i) => ({ x: v, y: medianSdi[i] })),
  showLine: true, borderColor: '#000', borderWidth: 8, borderJoinStyle: 'round', pointRadius: 0, order: 0
});

new Chart(document.getElementById('ida'), {
  type: 'scatter',
  data: { datasets: idaSets },
  options: {
    responsive: false,
    animation: false,
    layout: { padding: { left: 0, right: 31, top: 16, bottom: 0 } },
    plugins: { legend: { display: false }, tooltip: { enabled: false } },
    scales: {
      x: {
        type: 'linear', min: 0, max: 0.06,
        afterBuildTicks: s => { s.ticks = driftTicks.map(v => ({ value: v })); },
        afterFit: s => { s.height = 71; },
        ticks: { callback: (v, i) => driftLabels[i], color: '#000', font: { family: 'Liberation Sans', size: 20 }, padding: 7, maxRotation: 0, autoSkip: false },
        grid: { display: false, drawTicks: false },
        border: { display: false },
        title: { display: true, text: 'Maximum Interstory Drift Ratio', color: '#000', font: { family: 'Liberation Sans', size: 23, weight: 'bold' }, padding: { top: 0, bottom: 9 } }
      },
      y: {
        type: 'linear', min: 0, max: 30,
        afterBuildTicks: s => { s.ticks = sdiTicks.map(v => ({ value: v })); },
        afterFit: s => { s.width = 120; },
        ticks: { callback: (v, i) => sdiLabels[i], color: '#000', font: { family: 'Liberation Sans', size: 20 }, padding: 7, autoSkip: false },
        grid: { display: false, drawTicks: false },
        border: { display: false }
      }
    }
  },
  plugins: [frameTicks]
});
</script>
</body>
</html>
